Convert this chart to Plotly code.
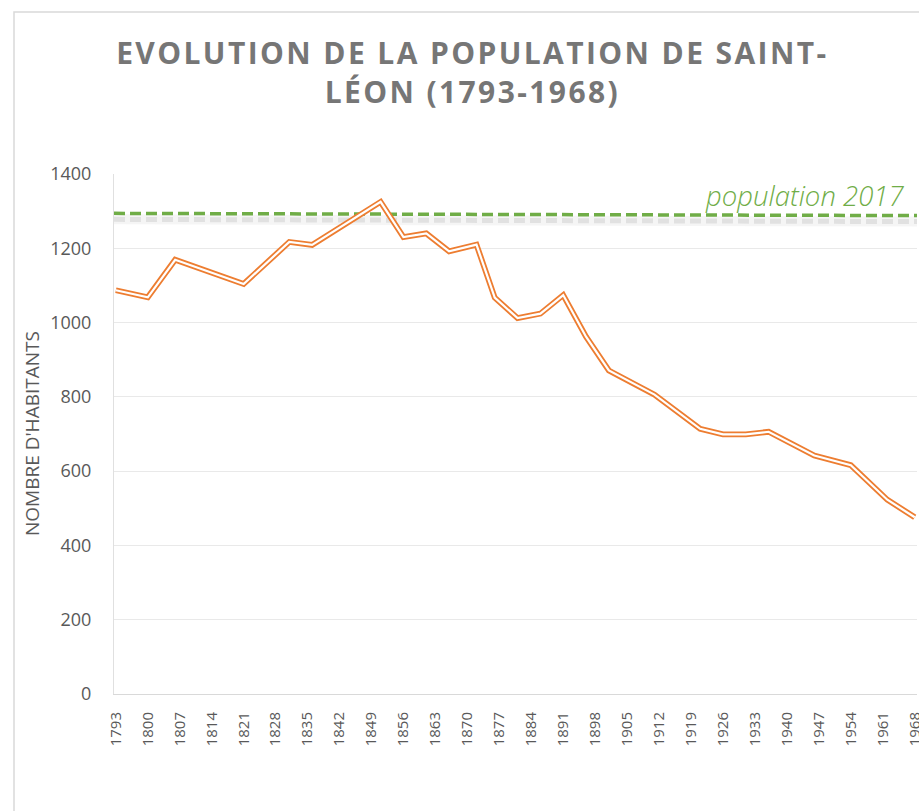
import plotly.graph_objects as go

# ---- data ----
years = [1793, 1800, 1806, 1821, 1831, 1836, 1851, 1856, 1861, 1866, 1872, 1876,
         1881, 1886, 1891, 1896, 1901, 1911, 1921, 1926, 1931, 1936, 1946, 1954,
         1962, 1968]
population = [1087, 1068, 1169, 1104, 1217, 1209, 1325, 1230, 1240, 1192, 1210, 1067,
              1012, 1024, 1074, 962, 871, 806, 714, 699, 699, 706, 642, 616,
              523, 476]
tick_years = [1793, 1800, 1807, 1814, 1821, 1828, 1835, 1842, 1849, 1856, 1863, 1870,
              1877, 1884, 1891, 1898, 1905, 1912, 1919, 1926, 1933, 1940, 1947, 1954,
              1961, 1968]
tick_labels = [str(y) for y in tick_years]
pop2017_line_years = [1792.6, 1968.5]
pop2017_line_values = [1294, 1288]
pop2017_label = "population 2017"
y_ticks = [0, 200, 400, 600, 800, 1000, 1200, 1400]

title_text = "EVOLUTION DE LA POPULATION DE SAINT-<br>LÉON (1793-1968)"
y_title = "NOMBRE D'HABITANTS"

ORANGE = "#ed7d31"
GREEN = "#70ad47"
GRAY_TXT = "#595959"

W, H = 919, 811
ML, MR, MT, MB = 114, 2, 174, 117
px_per_unit = (H - MT - MB) / (y_ticks[-1] - y_ticks[0])

fig = go.Figure()

# shadow of the 2017 line
shadow_off = 6 / px_per_unit
fig.add_trace(go.Scatter(
    x=pop2017_line_years, y=[v - shadow_off for v in pop2017_line_values],
    mode="lines", line=dict(color="rgba(0,0,0,0.04)", width=10),
    hoverinfo="skip", showlegend=False))
fig.add_trace(go.Scatter(
    x=pop2017_line_years, y=[v - shadow_off for v in pop2017_line_values],
    mode="lines", line=dict(color="rgba(0,0,0,0.08)", width=5, dash="11px,5px"),
    hoverinfo="skip", showlegend=False))
# the 2017 line
fig.add_trace(go.Scatter(
    x=pop2017_line_years, y=pop2017_line_values,
    mode="lines", line=dict(color=GREEN, width=3.5, dash="11px,5px"),
    hoverinfo="skip", showlegend=False))

# double orange line
fig.add_trace(go.Scatter(
    x=years, y=population, mode="lines",
    line=dict(color=ORANGE, width=5.8, shape="linear"),
    showlegend=False))
fig.add_trace(go.Scatter(
    x=years, y=population, mode="lines",
    line=dict(color="white", width=2.2, shape="linear"),
    hoverinfo="skip", showlegend=False))

fig.add_annotation(
    x=1966.0, y=1341, xref="x", yref="y", xanchor="right", yanchor="middle",
    text=pop2017_label, showarrow=False,
    font=dict(family="Open Sans", size=27.5, color=GREEN, style="italic", weight=300))

fig.add_annotation(
    x=(32 - ML) / (W - ML - MR), y=0.5, xref="paper", yref="paper",
    xanchor="center", yanchor="middle", textangle=-90,
    text=y_title, showarrow=False,
    font=dict(family="Open Sans", size=19, color=GRAY_TXT))

# chart border
fig.add_shape(type="rect", xref="paper", yref="paper",
              x0=(14 - ML) / (W - ML - MR), x1=1.3,
              y0=-0.5, y1=(H - MB - 12) / (H - MT - MB),
              line=dict(color="#d9d9d9", width=1.5), layer="below")

fig.update_layout(
    width=W, height=H,
    margin=dict(l=ML, r=MR, t=MT, b=MB, pad=0, autoexpand=False),
    paper_bgcolor="white", plot_bgcolor="white",
    title=dict(text=title_text, xref="container", yref="container",
               x=0.514, xanchor="center", y=1 - 64 / H, yanchor="top",
               font=dict(family="Open Sans", size=30, color="#767676", weight="bold")),
    xaxis=dict(range=[pop2017_line_years[0], pop2017_line_years[1]],
               tickmode="array", tickvals=tick_years, ticktext=tick_labels,
               tickangle=-90, showgrid=False, zeroline=False, automargin=False,
               showline=True, linecolor="#d9d9d9", linewidth=1,
               ticks="", ticklabelstandoff=11, ticklabeloverflow="allow",
               tickfont=dict(family="Open Sans", size=15, color=GRAY_TXT)),
    yaxis=dict(range=[y_ticks[0], y_ticks[-1]], tickmode="array", tickvals=y_ticks,
               showgrid=True, gridcolor="#e9e9e9", gridwidth=1, zeroline=False,
               showline=True, linecolor="#e0e0e0", linewidth=1, automargin=False,
               ticks="", ticklabelstandoff=18,
               tickfont=dict(family="Open Sans", size=18, color=GRAY_TXT)),
    showlegend=False,
)

post = """
document.body.style.margin='0';
document.querySelectorAll('.gtitle').forEach(function(e){e.style.letterSpacing='2.4px';});
"""
fig.write_html("out.html", post_script=post, config={"displayModeBar": False})
